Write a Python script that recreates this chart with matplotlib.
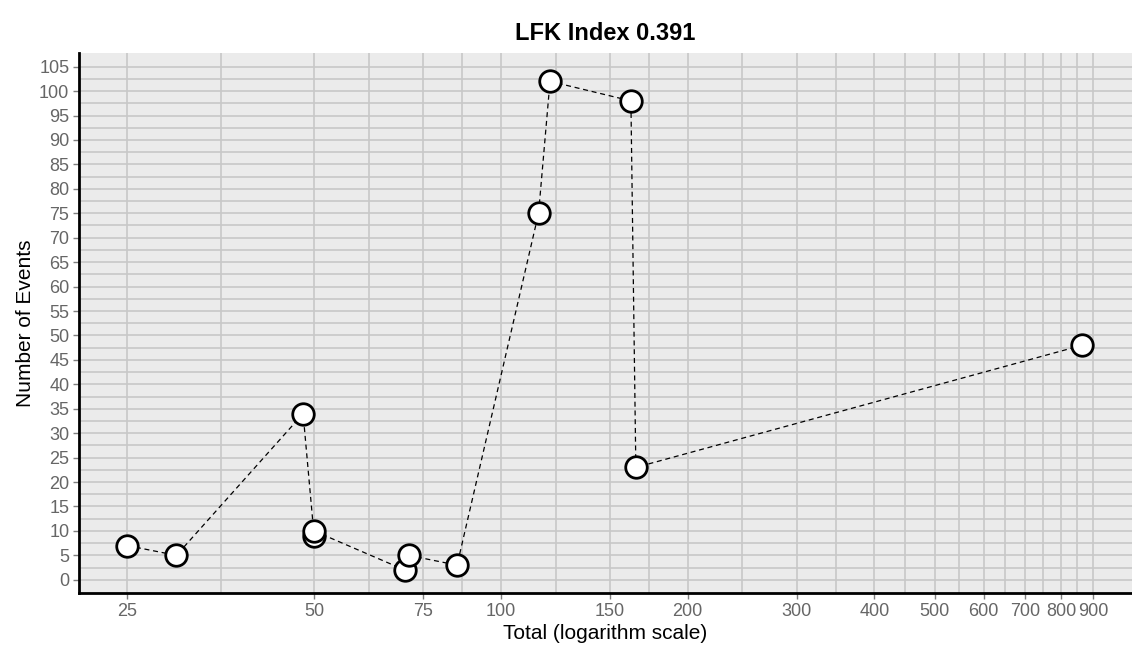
import numpy as np
import matplotlib
matplotlib.use('Agg')
from matplotlib import pyplot as plt
from matplotlib.ticker import FixedLocator, FixedFormatter, NullFormatter

plt.rcParams['font.family'] = ['Liberation Sans', 'DejaVu Sans']

# data (sorted by total, joined in that order)
total = [25, 30, 48, 50, 50, 70, 71, 85, 115, 120, 162, 165, 865]
events = [7, 5, 34, 9, 10, 2, 5, 3, 75, 102, 98, 23, 48]

x_ticks = [25, 50, 75, 100, 150, 200, 300, 400, 500, 600, 700, 800, 900]
y_ticks = list(range(0, 106, 5))

# minor grid at geometric midpoints of the major breaks (ggplot style)
x_minor = [np.sqrt(a * b) for a, b in zip(x_ticks[:-1], x_ticks[1:])]
y_minor = [v + 2.5 for v in y_ticks[:-1]]

fig = plt.figure(figsize=(11.32, 6.51), dpi=100)
ax = fig.add_axes([0.0698, 0.0891, 0.9302, 0.8295])
ax.set_facecolor('#ebebeb')

ax.plot(total, events, color='black', linestyle=(0, (4, 3)), linewidth=0.9, zorder=3)
ax.plot(total, events, linestyle='none', marker='o', markersize=15.5,
        markerfacecolor='white', markeredgecolor='black', markeredgewidth=2, zorder=4)

ax.set_xscale('log')
ax.set_xlim(20.9, 1040)
ax.set_ylim(-2.7, 107.8)

ax.xaxis.set_major_locator(FixedLocator(x_ticks))
ax.xaxis.set_major_formatter(FixedFormatter([str(t) for t in x_ticks]))
ax.xaxis.set_minor_locator(FixedLocator(x_minor))
ax.xaxis.set_minor_formatter(NullFormatter())
ax.yaxis.set_major_locator(FixedLocator(y_ticks))
ax.yaxis.set_minor_locator(FixedLocator(y_minor))

ax.grid(True, which='major', color='#c8c8c8', linewidth=1.2)
ax.grid(True, which='minor', color='#c8c8c8', linewidth=1.2)
ax.set_axisbelow(True)

ax.tick_params(which='major', length=4, width=1, color='#7f7f7f',
               labelcolor='#666666', labelsize=13, pad=3)
ax.tick_params(which='minor', length=0)

for side in ['top', 'right']:
    ax.spines[side].set_visible(False)
for side in ['left', 'bottom']:
    ax.spines[side].set_color('black')
    ax.spines[side].set_linewidth(2)

ax.set_title('LFK Index 0.391', fontsize=17, fontweight='bold', pad=9)
ax.set_xlabel('Total (logarithm scale)', fontsize=15, labelpad=3)
ax.set_ylabel('Number of Events', fontsize=15, labelpad=3)

fig.savefig('out.png', dpi=100)
